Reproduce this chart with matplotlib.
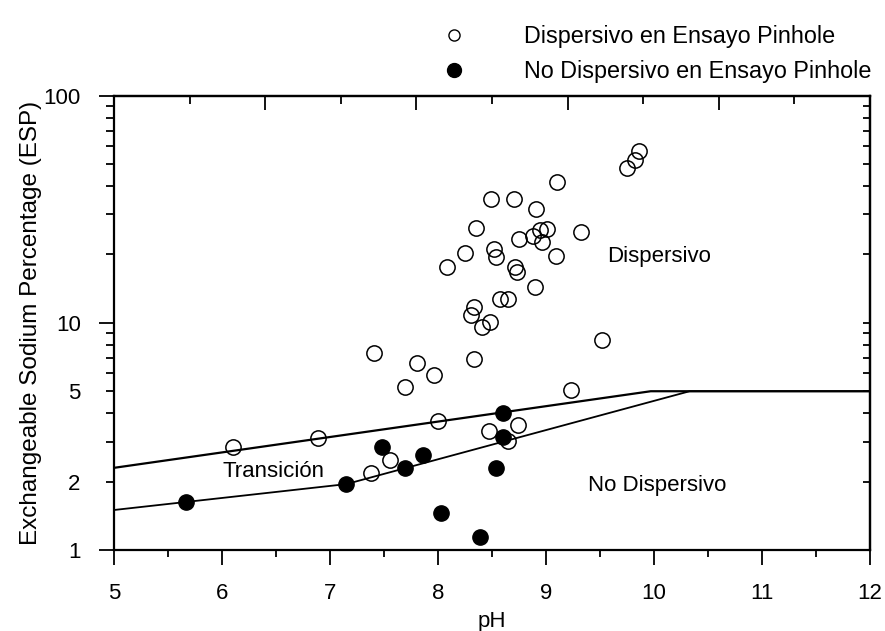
import matplotlib
matplotlib.use('Agg')
import matplotlib.pyplot as plt
from matplotlib.lines import Line2D
from matplotlib.ticker import FixedLocator, FuncFormatter, NullFormatter, MultipleLocator, LogLocator

plt.rcParams['font.family'] = ['Liberation Sans', 'DejaVu Sans']
FS = 16

# ensayo pinhole: dispersivos (circulos abiertos)
disp_ph = [9.10, 8.49, 8.70, 8.91, 8.35, 9.32, 8.94, 9.01, 8.88, 8.75, 8.96,
           8.25, 8.52, 8.54, 9.09, 8.08, 8.71, 8.73, 8.90, 8.57, 8.65, 8.33,
           8.31, 8.48, 8.41, 9.86, 9.82, 9.75, 9.52, 7.41, 7.81, 8.33, 7.96,
           7.69, 8.00, 6.10, 6.89, 7.56, 7.38, 8.47, 8.74, 8.65, 9.23]
disp_esp = [41.7, 35.2, 35.2, 31.8, 26.1, 25.2, 25.6, 25.8, 24.1, 23.5, 22.6,
            20.4, 21.1, 19.5, 19.7, 17.6, 17.6, 16.8, 14.4, 12.7, 12.7, 11.8,
            10.8, 10.05, 9.55, 57.2, 52.1, 48.2, 8.4, 7.34, 6.63, 6.91, 5.89,
            5.23, 3.71, 2.85, 3.10, 2.49, 2.18, 3.35, 3.55, 3.02, 5.05]

# no dispersivos (circulos llenos)
nodisp_ph = [5.67, 7.15, 7.48, 7.69, 7.86, 8.03, 8.39, 8.60, 8.60, 8.54]
nodisp_esp = [1.62, 1.95, 2.83, 2.30, 2.62, 1.45, 1.14, 4.02, 3.15, 2.29]

# limites de zonas
upper_ph = [5, 9.97, 12]
upper_esp = [2.3, 5, 5]
lower_ph = [5, 7.15, 10.33, 12]
lower_esp = [1.5, 1.95, 5, 5]

fig = plt.figure(figsize=(8.85, 6.31), dpi=100)
ax = fig.add_axes([114/885, 1-550/631, 756/885, 454.3/631])

ax.plot(upper_ph, upper_esp, color='black', lw=1.6, zorder=2)
ax.plot(lower_ph, lower_esp, color='black', lw=1.3, zorder=2)
ax.plot(disp_ph, disp_esp, 'o', ms=11, mfc='none', mec='black', mew=1.1, zorder=3)
ax.plot(nodisp_ph, nodisp_esp, 'o', ms=11, mfc='black', mec='black', zorder=4)

ax.set_yscale('log')
ax.set_xlim(5, 12)
ax.set_ylim(1, 100)

ax.xaxis.set_major_locator(MultipleLocator(1))
ax.xaxis.set_minor_locator(MultipleLocator(0.5))
ax.yaxis.set_major_locator(FixedLocator([1, 10, 100]))
ax.yaxis.set_major_formatter(FuncFormatter(lambda v, p: '%g' % v))
ax.yaxis.set_minor_locator(LogLocator(base=10, subs=range(2, 10)))
ax.yaxis.set_minor_formatter(FuncFormatter(lambda v, p: '%g' % v if v in (2, 5) else ''))

ax.tick_params(axis='x', which='major', direction='out', length=11, width=1.3, pad=13, labelsize=FS)
ax.tick_params(axis='x', which='minor', direction='out', length=5, width=1.3)
ax.tick_params(axis='y', which='major', direction='out', length=11, width=1.3, pad=13, labelsize=FS)
ax.tick_params(axis='y', which='minor', direction='out', length=6, width=1.3, pad=18, labelsize=FS)

for s in ax.spines.values():
    s.set_linewidth(1.6)

# eje superior con marcas propias
top = ax.secondary_xaxis('top')
top.xaxis.set_major_locator(FixedLocator([5 + 0.7 * k for k in range(0, 11, 2)]))
top.xaxis.set_minor_locator(FixedLocator([5 + 0.7 * k for k in range(1, 11, 2)]))
top.xaxis.set_major_formatter(NullFormatter())
top.tick_params(which='major', direction='in', length=10, width=1.3)
top.tick_params(which='minor', direction='in', length=6, width=1.3)
top.spines['top'].set_linewidth(1.6)

right = ax.secondary_yaxis('right')
right.yaxis.set_major_locator(FixedLocator([1, 10, 100]))
right.yaxis.set_minor_locator(LogLocator(base=10, subs=range(2, 10)))
right.yaxis.set_major_formatter(NullFormatter())
right.yaxis.set_minor_formatter(NullFormatter())
right.tick_params(which='both', direction='in', length=5, width=1.3)
right.spines['right'].set_linewidth(1.6)

ax.set_xlabel('pH', fontsize=FS)
ax.set_ylabel('Exchangeable Sodium Percentage (ESP)', fontsize=17.5)
ax.xaxis.set_label_coords(0.5, -0.135)
ax.yaxis.set_label_coords(-0.095, 0.5)

ax.text(10.05, 19.5, 'Dispersivo', ha='center', va='center', fontsize=FS)
ax.text(6.48, 2.21, 'Transición', ha='center', va='center', fontsize=FS)
ax.text(10.03, 1.93, 'No Dispersivo', ha='center', va='center', fontsize=FS)

handles = [Line2D([], [], ls='none', marker='o', ms=8, mfc='none', mec='black', mew=1.0),
           Line2D([], [], ls='none', marker='o', ms=10, mfc='black', mec='black')]
fig.legend(handles, ['Dispersivo en Ensayo Pinhole', 'No Dispersivo en Ensayo Pinhole'],
           loc='upper left', bbox_to_anchor=(0.5, 0.96), frameon=False,
           fontsize=16.8, handlelength=1.0, handletextpad=2.5, labelspacing=0.5,
           borderpad=0, borderaxespad=0)

fig.savefig('out.png', dpi=100)
